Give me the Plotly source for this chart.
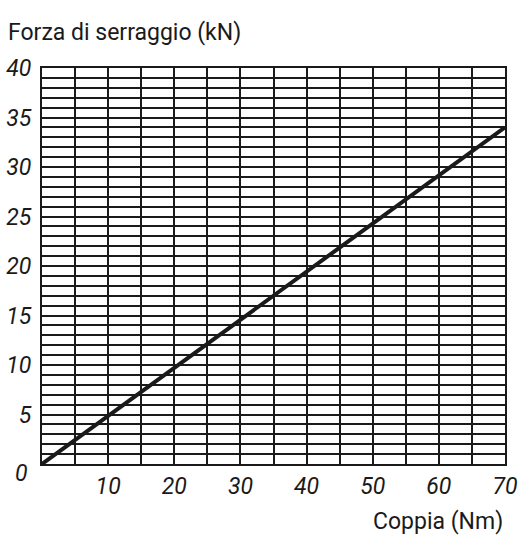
import plotly.graph_objects as go

# Data
torque_nm = [0, 70]
force_kn = [0, 34]

x_ticks = [10, 20, 30, 40, 50, 60, 70]
x_minor = [5, 15, 25, 35, 45, 55, 65]
y_ticks = [5, 10, 15, 20, 25, 30, 35, 40]

FONT = "Roboto, Liberation Sans, sans-serif"
INK = "#1a1a1a"

fig = go.Figure()
fig.add_trace(go.Scatter(x=torque_nm, y=force_kn, mode="lines",
                         line=dict(color=INK, width=4), showlegend=False,
                         hoverinfo="skip"))

fig.update_layout(
    width=520, height=535,
    margin=dict(l=42, r=15, t=68, b=71, autoexpand=False),
    paper_bgcolor="white", plot_bgcolor="white",
    font=dict(family=FONT, color=INK),
)
fig.update_xaxes(range=[0, 70], tickvals=x_ticks, ticktext=[f"<i>{v}</i>" for v in x_ticks],
                 tickfont=dict(size=23, color=INK), ticks="", showgrid=True, gridcolor=INK, gridwidth=2,
                 showline=True, linecolor=INK, linewidth=2, mirror=True, zeroline=False,
                 minor=dict(tickvals=x_minor, showgrid=True, gridcolor=INK, gridwidth=2),
                 ticklabelstandoff=0, automargin=False)
fig.update_yaxes(range=[0, 40], tickvals=y_ticks, ticktext=[f"<i>{v}</i>" for v in y_ticks],
                 tickfont=dict(size=23, color=INK), ticks="", showgrid=True, gridcolor=INK, gridwidth=1.6,
                 showline=True, linecolor=INK, linewidth=2, mirror=True, zeroline=False,
                 minor=dict(dtick=1, showgrid=True, gridcolor=INK, gridwidth=1.6),
                 ticklabelstandoff=4, automargin=False)

fig.add_annotation(text="<i>0</i>", x=0, y=0, xref="x", yref="y", xanchor="right", yanchor="middle",
                   xshift=-12, yshift=-9, showarrow=False, font=dict(size=23, family=FONT, color=INK))
fig.add_annotation(text="Forza di serraggio (kN)", x=0, y=1, xref="paper", yref="paper",
                   xanchor="left", yanchor="bottom", xshift=-36, yshift=20,
                   showarrow=False, font=dict(size=23, family=FONT, color=INK))
fig.add_annotation(text="Coppia (Nm)", x=1, y=0, xref="paper", yref="paper", xanchor="right", yanchor="top",
                   xshift=0, yshift=-42, showarrow=False, font=dict(size=23, family=FONT, color=INK))

fig.write_html("out.html", config={"displayModeBar": False},
               post_script="document.body.style.margin='0';document.body.style.overflow='hidden';")
